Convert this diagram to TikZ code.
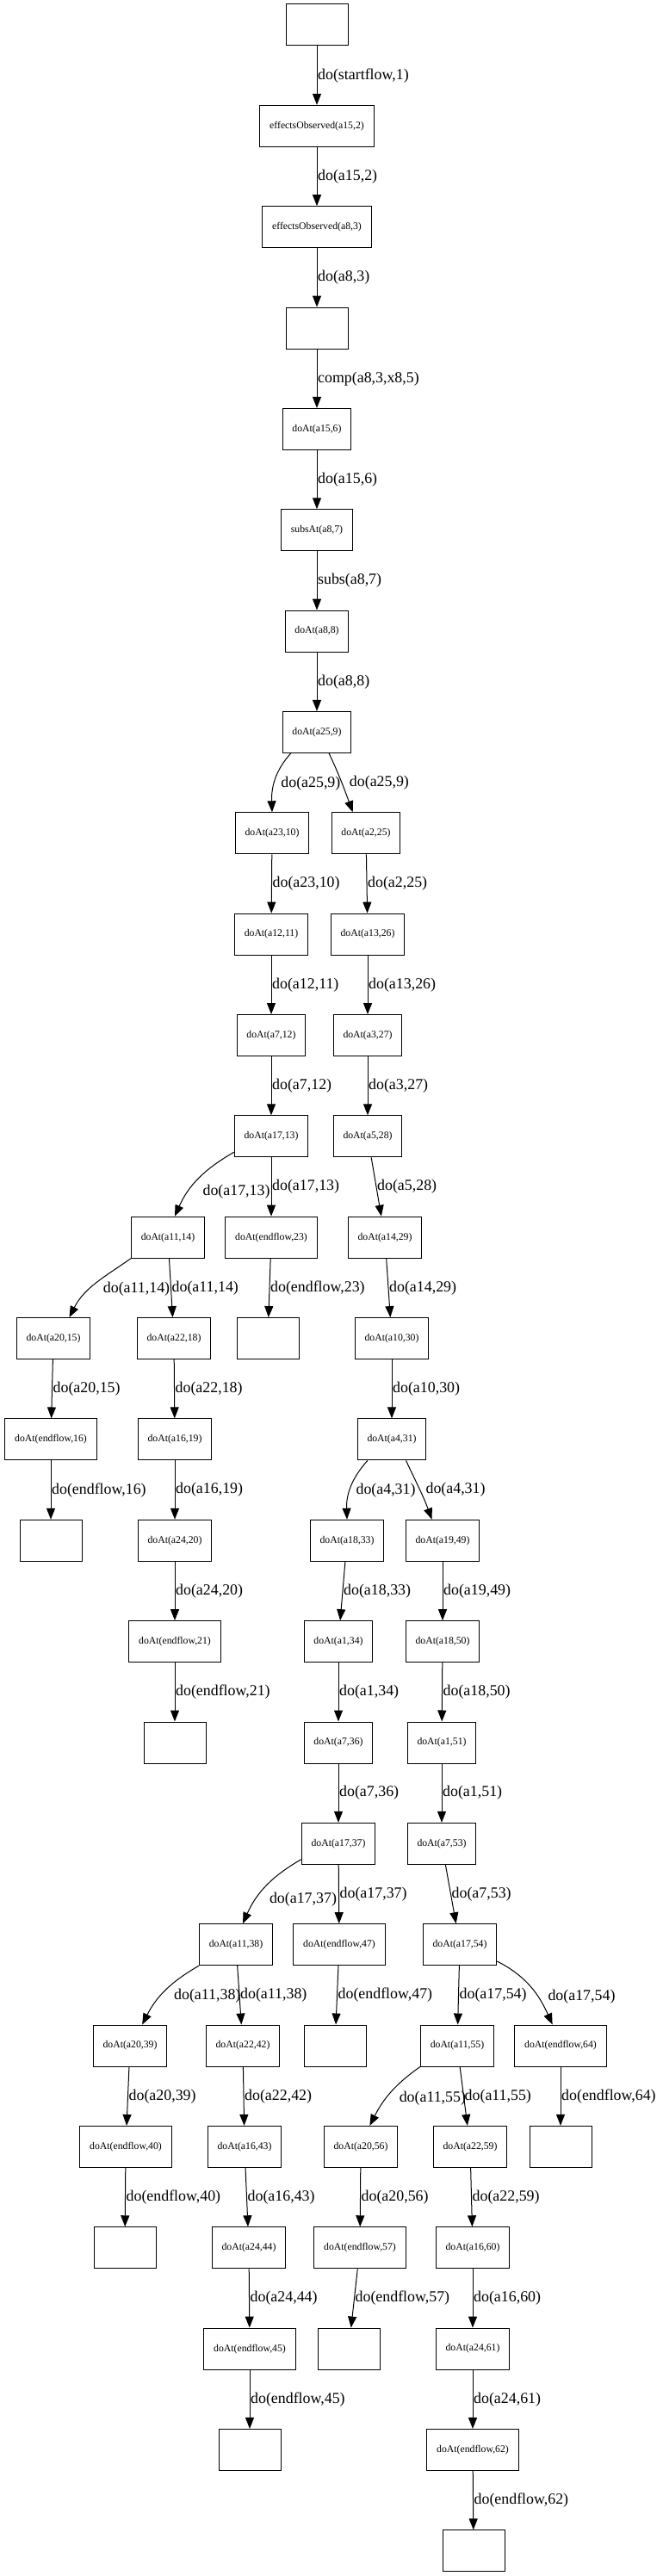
\documentclass[tikz,border=0pt]{standalone}
\usepackage{fontspec}
\setmainfont{Liberation Serif}
\usetikzlibrary{arrows.meta}

\begin{document}
\begin{tikzpicture}[x=0.75pt,y=-88.0125pt,
    sit/.style={draw,line width=0.75pt,minimum width=54pt,minimum height=36pt,inner xsep=8.5pt,font=\fontsize{8.8}{10}\selectfont},
    act/.style={-{Triangle[length=9.75pt,width=7.5pt]},line width=0.75pt},
    lbl/.style={right,inner sep=0.5pt,font=\fontsize{13.4}{15}\selectfont}]
    \useasboundingbox(0,-0.2471)rectangle(769,25.2489);

    % trunk
    \node[sit](e0)at(368,0){};
    \node[sit](o2)at(368,1){effectsObserved(a15,2)};
    \node[sit](o3)at(368,2){effectsObserved(a8,3)};
    \node[sit](e4)at(368,3){};
    \node[sit](d6)at(368,4){doAt(a15,6)};
    \node[sit](s7)at(368,5){subsAt(a8,7)};
    \node[sit](d8)at(368,6){doAt(a8,8)};
    \node[sit](d9)at(368,7){doAt(a25,9)};

    % left branch
    \node[sit](d10)at(316,8){doAt(a23,10)};
    \node[sit](d11)at(315,9){doAt(a12,11)};
    \node[sit](d12)at(315,10){doAt(a7,12)};
    \node[sit](d13)at(315,11){doAt(a17,13)};
    \node[sit](d14)at(195,12){doAt(a11,14)};
    \node[sit](d23)at(315,12){doAt(endflow,23)};
    \node[sit](e24)at(311,13){};
    \node[sit](d15)at(62,13){doAt(a20,15)};
    \node[sit](d16)at(59,14){doAt(endflow,16)};
    \node[sit](e17)at(59,15){};
    \node[sit](d18)at(202,13){doAt(a22,18)};
    \node[sit](d19)at(203,14){doAt(a16,19)};
    \node[sit](d20)at(203,15){doAt(a24,20)};
    \node[sit](d21)at(203,16){doAt(endflow,21)};
    \node[sit](e22)at(203,17){};

    % right branch
    \node[sit](d25)at(425,8){doAt(a2,25)};
    \node[sit](d26)at(427,9){doAt(a13,26)};
    \node[sit](d27)at(427,10){doAt(a3,27)};
    \node[sit](d28)at(427,11){doAt(a5,28)};
    \node[sit](d29)at(447,12){doAt(a14,29)};
    \node[sit](d30)at(455,13){doAt(a10,30)};
    \node[sit](d31)at(455,14){doAt(a4,31)};
    \node[sit](d33)at(403,15){doAt(a18,33)};
    \node[sit](d34)at(393,16){doAt(a1,34)};
    \node[sit](d36)at(393,17){doAt(a7,36)};
    \node[sit](d37)at(393,18){doAt(a17,37)};
    \node[sit](d38)at(274,19){doAt(a11,38)};
    \node[sit](d47)at(394,19){doAt(endflow,47)};
    \node[sit](e48)at(389,20){};
    \node[sit](d39)at(151,20){doAt(a20,39)};
    \node[sit](d40)at(146,21){doAt(endflow,40)};
    \node[sit](e41)at(145,22){};
    \node[sit](d42)at(282,20){doAt(a22,42)};
    \node[sit](d43)at(284,21){doAt(a16,43)};
    \node[sit](d44)at(289,22){doAt(a24,44)};
    \node[sit](d45)at(290,23){doAt(endflow,45)};
    \node[sit](e46)at(290,24){};
    \node[sit](d49)at(514,15){doAt(a19,49)};
    \node[sit](d50)at(514,16){doAt(a18,50)};
    \node[sit](d51)at(513,17){doAt(a1,51)};
    \node[sit](d53)at(513,18){doAt(a7,53)};
    \node[sit](d54)at(534,19){doAt(a17,54)};
    \node[sit](d55)at(531,20){doAt(a11,55)};
    \node[sit](d64)at(651,20){doAt(endflow,64)};
    \node[sit](e65)at(651,21){};
    \node[sit](d56)at(419,21){doAt(a20,56)};
    \node[sit](d57)at(418,22){doAt(endflow,57)};
    \node[sit](e58)at(405,23){};
    \node[sit](d59)at(546,21){doAt(a22,59)};
    \node[sit](d60)at(549,22){doAt(a16,60)};
    \node[sit](d61)at(549,23){doAt(a24,61)};
    \node[sit](d62)at(549,24){doAt(endflow,62)};
    \node[sit](e63)at(550,25){};

    % edges
    \draw[act](e0)--node[lbl]{do(startflow,1)}(o2);
    \draw[act](o2)--node[lbl]{do(a15,2)}(o3);
    \draw[act](o3)--node[lbl]{do(a8,3)}(e4);
    \draw[act](e4)--node[lbl]{comp(a8,3,x8,5)}(d6);
    \draw[act](d6)--node[lbl]{do(a15,6)}(s7);
    \draw[act](s7)--node[lbl]{subs(a8,7)}(d8);
    \draw[act](d8)--node[lbl]{do(a8,8)}(d9);
    \draw[act](d9.-141)to[out=228,in=92]node[lbl,pos=0.55,xshift=5pt]{do(a25,9)}(d10.north);
    \draw[act](d9.-60)to[out=-65,in=110]node[lbl,xshift=6pt]{do(a25,9)}(d25.122);

    \draw[act](d10)--node[lbl]{do(a23,10)}(d11);
    \draw[act](d11)--node[lbl]{do(a12,11)}(d12);
    \draw[act](d12)--node[lbl]{do(a7,12)}(d13);
    \draw[act](d13.203)to[out=210,in=66]node[lbl,pos=0.7,xshift=12pt]{do(a17,13)}(d14.72);
    \draw[act](d13)--node[lbl]{do(a17,13)}(d23);
    \draw[act](d23)--node[lbl]{do(endflow,23)}(e24);
    \draw[act](d14.south west)to[out=215,in=63]node[lbl,pos=0.6,xshift=11pt]{do(a11,14)}(d15.53);
    \draw[act](d14)--node[lbl]{do(a11,14)}(d18);
    \draw[act](d15)--node[lbl]{do(a20,15)}(d16);
    \draw[act](d16)--node[lbl]{do(endflow,16)}(e17);
    \draw[act](d18)--node[lbl]{do(a22,18)}(d19);
    \draw[act](d19)--node[lbl]{do(a16,19)}(d20);
    \draw[act](d20)--node[lbl]{do(a24,20)}(d21);
    \draw[act](d21)--node[lbl]{do(endflow,21)}(e22);

    \draw[act](d25)--node[lbl]{do(a2,25)}(d26);
    \draw[act](d26)--node[lbl]{do(a13,26)}(d27);
    \draw[act](d27)--node[lbl]{do(a3,27)}(d28);
    \draw[act](d28)--node[lbl]{do(a5,28)}(d29);
    \draw[act](d29)--node[lbl]{do(a14,29)}(d30);
    \draw[act](d30)--node[lbl]{do(a10,30)}(d31);
    \draw[act](d31.-139)to[out=228,in=92]node[lbl,pos=0.55,xshift=4.5pt]{do(a4,31)}(d33.north);
    \draw[act](d31.-56)to[out=-65,in=110]node[lbl,xshift=4.5pt]{do(a4,31)}(d49.117);
    \draw[act](d33)--node[lbl]{do(a18,33)}(d34);
    \draw[act](d34)--node[lbl]{do(a1,34)}(d36);
    \draw[act](d36)--node[lbl]{do(a7,36)}(d37);
    \draw[act](d37.203)to[out=210,in=66]node[lbl,pos=0.7,xshift=11pt]{do(a17,37)}(d38.72);
    \draw[act](d37)--node[lbl]{do(a17,37)}(d47);
    \draw[act](d47)--node[lbl]{do(endflow,47)}(e48);
    \draw[act](d38.south west)to[out=210,in=63]node[lbl,pos=0.6,xshift=11pt]{do(a11,38)}(d39.60);
    \draw[act](d38)--node[lbl]{do(a11,38)}(d42);
    \draw[act](d39)--node[lbl]{do(a20,39)}(d40);
    \draw[act](d40)--node[lbl]{do(endflow,40)}(e41);
    \draw[act](d42)--node[lbl]{do(a22,42)}(d43);
    \draw[act](d43)--node[lbl]{do(a16,43)}(d44);
    \draw[act](d44)--node[lbl]{do(a24,44)}(d45);
    \draw[act](d45)--node[lbl]{do(endflow,45)}(e46);

    \draw[act](d49)--node[lbl]{do(a19,49)}(d50);
    \draw[act](d50)--node[lbl]{do(a18,50)}(d51);
    \draw[act](d51)--node[lbl]{do(a1,51)}(d53);
    \draw[act](d53)--node[lbl]{do(a7,53)}(d54);
    \draw[act](d54)--node[lbl]{do(a17,54)}(d55);
    \draw[act](d54.-24)to[out=-27,in=114]node[lbl,pos=0.65,xshift=8pt]{do(a17,54)}(d64.111);
    \draw[act](d64)--node[lbl]{do(endflow,64)}(e65);
    \draw[act](d55.south west)to[out=215,in=63]node[lbl,pos=0.6,xshift=10.5pt]{do(a11,55)}(d56.67);
    \draw[act](d55)--node[lbl]{do(a11,55)}(d59);
    \draw[act](d56)--node[lbl]{do(a20,56)}(d57);
    \draw[act](d57)--node[lbl]{do(endflow,57)}(e58);
    \draw[act](d59)--node[lbl]{do(a22,59)}(d60);
    \draw[act](d60)--node[lbl]{do(a16,60)}(d61);
    \draw[act](d61)--node[lbl]{do(a24,61)}(d62);
    \draw[act](d62)--node[lbl]{do(endflow,62)}(e63);
\end{tikzpicture}
\end{document}
